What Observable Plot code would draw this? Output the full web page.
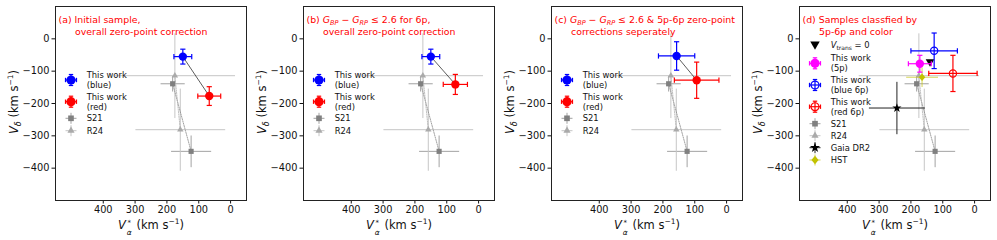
<!DOCTYPE html>
<html><head><meta charset="utf-8">
<script src="https://cdn.jsdelivr.net/npm/d3@7"></script>
<script src="https://cdn.jsdelivr.net/npm/@observablehq/plot@0.6"></script>
<style>
body{margin:0;background:#fff;font-family:"DejaVu Sans",sans-serif;}
#wrap{position:relative;width:997px;height:240px;overflow:hidden;}
.panel{position:absolute;top:0;width:248px;height:240px;}
.panel svg.plot{position:absolute;left:0;top:0;}
.ttl{position:absolute;color:#ff0000;font-size:9.4px;white-space:nowrap;line-height:12px;}
.ttl sub{font-size:6.5px;vertical-align:-2px;line-height:0;}
.leg{position:absolute;font-size:8.4px;line-height:10px;color:#111;white-space:nowrap;}
.leg sub{font-size:6px;vertical-align:-2px;line-height:0;}
.ylab{position:absolute;width:160px;text-align:center;font-size:11.5px;color:#111;transform:rotate(-90deg);white-space:nowrap;}
.xlab{position:absolute;width:190px;text-align:center;font-size:11.5px;color:#111;white-space:nowrap;line-height:16px;}
sup.m{font-size:7.5px;vertical-align:5px;line-height:0;}
sub.m{font-size:8px;vertical-align:-3px;line-height:0;}
.ss{display:inline-flex;flex-direction:column;line-height:9.5px;vertical-align:4.5px;margin-left:1px;margin-right:1px;}
.ss .st{font-size:7px;}
.ss .al{font-size:7.5px;}
svg.ov{position:absolute;left:0;top:0;overflow:visible;}
</style></head>
<body><div id="wrap"></div>
<script>
// ---------- data ----------
const xTicks = [400, 300, 200, 100, 0];
const yTicks = [-400, -300, -200, -100, 0];
const xDomain = [-50, 550];
const yDomain = [-500, 100];

// reference measurements (same in every panel)
const s21X = [182, 124], s21Y = [-139, -348], s21Ex = [38, 63], s21Ey = [24, 49];
const r24X = [175, 158], r24Y = [-114, -281], r24Ex = [189, 141], r24Ey = [131, 127];

// This work, panels (a)-(c)
const blueX = [150, 150, 157], blueY = [-55, -55, -53], blueEx = [28, 28, 57], blueEy = [23, 23, 44];
const redX = [67, 73, 94], redY = [-177, -141, -128], redEx = [36, 38, 70], redEy = [29, 31, 56];

// panel (d)
const p5X = [172], p5Y = [-77], p5Ex = [36], p5Ey = [26];
const b6X = [127], b6Y = [-37], b6Ex = [73], b6Ey = [55];
const r6X = [68], r6Y = [-107], r6Ex = [76], r6Ey = [56];
const vtX = [140], vtY = [-73];
const gaiaX = [244], gaiaY = [-214], gaiaEx = [88], gaiaEy = [81];
const hstX = [165], hstY = [-119], hstEx = [50], hstEy = [30];

const titles = [
  ["(a) Initial sample,", "overall zero-point correction"],
  ["(b) <i>G<sub>BP</sub></i> − <i>G<sub>RP</sub></i> ≤ 2.6 for 6p,", "overall zero-point correction"],
  ["(c) <i>G<sub>BP</sub></i> − <i>G<sub>RP</sub></i> ≤ 2.6 &amp; 5p-6p zero-point", "corrections seperately"],
  ["(d) Samples classfied by", "5p-6p and color"]
];
const legendABC = [["blue", ["This work", "(blue)"]], ["red", ["This work", "(red)"]], ["s21", ["S21"]], ["r24", ["R24"]]];
const legendD = [["vt", ["<i>V</i><sub>trans</sub> = 0"]], ["p5", ["This work", "(5p)"]], ["b6", ["This work", "(blue 6p)"]],
  ["r6", ["This work", "(red 6p)"]], ["s21", ["S21"]], ["r24", ["R24"]], ["gaia", ["Gaia DR2"]], ["hst", ["HST"]]];

// ---------- symbols & styles ----------
const rad = s => Math.sqrt(s / Math.PI);
const capH = {draw(c, s){const r = rad(s); c.moveTo(-r, 0); c.lineTo(r, 0);}};
const capV = {draw(c, s){const r = rad(s); c.moveTo(0, -r); c.lineTo(0, r);}};
const triDown = {draw(c, s){const r = rad(s); c.moveTo(-r, -0.75*r); c.lineTo(r, -0.75*r); c.lineTo(0, r); c.closePath();}};
const diamond = {draw(c, s){const r = rad(s); c.moveTo(0, -r); c.lineTo(0.85*r, 0); c.lineTo(0, r); c.lineTo(-0.85*r, 0); c.closePath();}};

const ST = {
  blue: {symbol: d3.symbolCircle, r: 4.2, fill: "#0000ff", bar: "#0000ff", barW: 1.2, cap: 2.6},
  red:  {symbol: d3.symbolCircle, r: 4.2, fill: "#ff0000", bar: "#ff0000", barW: 1.2, cap: 2.6},
  s21:  {symbol: d3.symbolSquare, r: 2.9, fill: "#808080", bar: "#a2a2a2", barW: 1, cap: 0},
  r24:  {symbol: d3.symbolTriangle, r: 2.4, fill: "#aaaaaa", bar: "#c6c6c6", barW: 1, cap: 0},
  p5:   {symbol: d3.symbolCircle, r: 4.2, fill: "#ff00ff", bar: "#ff00ff", barW: 1.2, cap: 2.6},
  b6:   {symbol: d3.symbolCircle, r: 3.6, fill: "none", stroke: "#0000ff", sw: 1.2, bar: "#0000ff", barW: 1.2, cap: 2.6},
  r6:   {symbol: d3.symbolCircle, r: 3.6, fill: "none", stroke: "#ff0000", sw: 1.2, bar: "#ff0000", barW: 1.2, cap: 2.6},
  vt:   {symbol: triDown, r: 4.3, fill: "#000000", noBar: true},
  gaia: {symbol: d3.symbolStar, r: 2.9, fill: "#000000", bar: "#222222", barW: 1, cap: 0},
  hst:  {symbol: diamond, r: 3.8, fill: "#c2c200", bar: "#c8c820", barW: 1.4, barOp: 0.55, cap: 0}
};

const rows = (xs, ys, exs = [], eys = []) => xs.map((x, i) => ({x, y: ys[i], ex: exs[i] ?? 0, ey: eys[i] ?? 0}));

function ebar(data, st) {
  const m = [];
  if (!st.noBar) {
    const o = {stroke: st.bar, strokeWidth: st.barW, strokeOpacity: st.barOp ?? 1};
    m.push(Plot.link(data, {x1: d => d.x - d.ex, x2: d => d.x + d.ex, y1: "y", y2: "y", ...o}));
    m.push(Plot.link(data, {x1: "x", x2: "x", y1: d => d.y - d.ey, y2: d => d.y + d.ey, ...o}));
    if (st.cap) {
      const c = {fill: "none", stroke: st.bar, strokeWidth: st.barW, r: st.cap};
      m.push(Plot.dot(data, {x: d => d.x - d.ex, y: "y", symbol: capV, ...c}));
      m.push(Plot.dot(data, {x: d => d.x + d.ex, y: "y", symbol: capV, ...c}));
      m.push(Plot.dot(data, {x: "x", y: d => d.y - d.ey, symbol: capH, ...c}));
      m.push(Plot.dot(data, {x: "x", y: d => d.y + d.ey, symbol: capH, ...c}));
    }
  }
  m.push(Plot.dot(data, {x: "x", y: "y", symbol: st.symbol, r: st.r, fill: st.fill,
    stroke: st.stroke ?? "none", strokeWidth: st.sw ?? 1}));
  return m;
}

function refMarks() {
  const s = rows(s21X, s21Y, s21Ex, s21Ey), r = rows(r24X, r24Y, r24Ex, r24Ey);
  return [
    ...ebar(s, {...ST.s21, symbol: null, r: 0}).slice(0, 2),
    ...ebar(r, {...ST.r24, symbol: null, r: 0}).slice(0, 2),
    Plot.line(s, {x: "x", y: "y", stroke: "#8a8a8a", strokeWidth: 0.8, strokeDasharray: "1.2,1.2"}),
    Plot.line(r, {x: "x", y: "y", stroke: "#b0b0b0", strokeWidth: 0.8, strokeDasharray: "1.2,1.2"}),
    Plot.dot(s, {x: "x", y: "y", symbol: ST.s21.symbol, r: ST.s21.r, fill: ST.s21.fill}),
    Plot.dot(r, {x: "x", y: "y", symbol: ST.r24.symbol, r: ST.r24.r, fill: ST.r24.fill})
  ];
}

function panelMarks(i) {
  const marks = [...refMarks()];
  if (i < 3) {
    const b = rows([blueX[i]], [blueY[i]], [blueEx[i]], [blueEy[i]]);
    const r = rows([redX[i]], [redY[i]], [redEx[i]], [redEy[i]]);
    marks.push(Plot.line([...b, ...r], {x: "x", y: "y", stroke: "#333", strokeWidth: 0.8}));
    marks.push(...ebar(b, ST.blue), ...ebar(r, ST.red));
  } else {
    marks.push(...ebar(rows(gaiaX, gaiaY, gaiaEx, gaiaEy), ST.gaia));
    marks.push(...ebar(rows(hstX, hstY, hstEx, hstEy), ST.hst));
    marks.push(...ebar(rows(vtX, vtY), ST.vt));
    marks.push(...ebar(rows(p5X, p5Y, p5Ex, p5Ey), ST.p5));
    marks.push(...ebar(rows(b6X, b6Y, b6Ex, b6Ey), ST.b6));
    marks.push(...ebar(rows(r6X, r6Y, r6Ex, r6Ey), ST.r6));
  }
  marks.push(Plot.frame({stroke: "#222", strokeWidth: 1}));
  return marks;
}

// ---------- build ----------
const wrap = document.getElementById("wrap");
const lefts = [0, 248, 496, 744];
const ylabHTML = '<i>V</i><sub class="m"><i>δ</i></sub> (km s<sup class="m">−1</sup>)';
const xlabHTML = '<i>V</i><span class="ss"><span class="st">*</span><i class="al">α</i></span> (km s<sup class="m">−1</sup>)';

for (let i = 0; i < 4; i++) {
  const div = document.createElement("div");
  div.className = "panel";
  div.style.left = lefts[i] + "px";
  wrap.appendChild(div);

  const svg = Plot.plot({
    width: 248, height: 240,
    marginLeft: 55, marginRight: 2, marginTop: 6, marginBottom: 40,
    x: {domain: xDomain, reverse: true, ticks: xTicks, tickFormat: d3.format("d"), tickSize: 3.5, tickPadding: 2.5, label: null},
    y: {domain: yDomain, ticks: yTicks, tickFormat: d3.format("d"), tickSize: 3.5, tickPadding: 2.5, label: null},
    style: {fontFamily: "DejaVu Sans", fontSize: "9.8px", color: "#111", background: "transparent"},
    marks: panelMarks(i)
  });
  svg.classList.add("plot");
  div.appendChild(svg);

  // titles
  const t1 = document.createElement("div");
  t1.className = "ttl"; t1.style.left = "58.5px"; t1.style.top = "14px"; t1.innerHTML = titles[i][0];
  const t2 = document.createElement("div");
  t2.className = "ttl"; t2.style.left = "75px"; t2.style.top = "26.3px"; t2.innerHTML = titles[i][1];
  div.appendChild(t1); div.appendChild(t2);

  // axis labels
  const yl = document.createElement("div");
  yl.className = "ylab"; yl.style.left = (14 - 80) + "px"; yl.style.top = (103 - 8) + "px"; yl.innerHTML = ylabHTML;
  const xl = document.createElement("div");
  xl.className = "xlab"; xl.style.left = "56px"; xl.style.top = "217px"; xl.innerHTML = xlabHTML;
  div.appendChild(yl); div.appendChild(xl);

  // legend
  const items = i < 3 ? legendABC : legendD;
  const ys = i < 3 ? [80, 101.7, 118.3, 130.7] : [45, 63.3, 85, 106.7, 123.7, 135.7, 147.7, 160];
  const ov = d3.select(div).append("svg").attr("class", "ov").attr("width", 248).attr("height", 240);
  items.forEach(([key, lines], k) => {
    const st = ST[key], cy = ys[k], cx = 71;
    const g = ov.append("g").attr("transform", `translate(${cx},${cy})`);
    if (!st.noBar) {
      const L = 5.5;
      const o = {stroke: st.bar, "stroke-width": st.barW, "stroke-opacity": st.barOp ?? 1};
      const ln = (x1, y1, x2, y2) => { const e = g.append("line").attr("x1", x1).attr("y1", y1).attr("x2", x2).attr("y2", y2); for (const a in o) e.attr(a, o[a]); };
      ln(-L, 0, L, 0); ln(0, -L, 0, L);
      if (st.cap) { const c = 2.2; ln(-L, -c, -L, c); ln(L, -c, L, c); ln(-c, -L, c, -L); ln(-c, L, c, L); }
    }
    const rr = st.r * 1.1;
    if (st.symbol === d3.symbolCircle) {
      g.append("circle").attr("r", rr).attr("fill", st.fill).attr("stroke", st.stroke ?? "none").attr("stroke-width", st.sw ?? 1);
    } else {
      g.append("path").attr("d", d3.symbol(st.symbol, Math.PI * rr * rr)()).attr("fill", st.fill);
    }
    const tx = document.createElement("div");
    tx.className = "leg";
    tx.style.left = "86.7px";
    tx.style.top = (cy - lines.length * 5) + "px";
    tx.innerHTML = lines.join("<br>");
    div.appendChild(tx);
  });
}
</script>
</body></html>
